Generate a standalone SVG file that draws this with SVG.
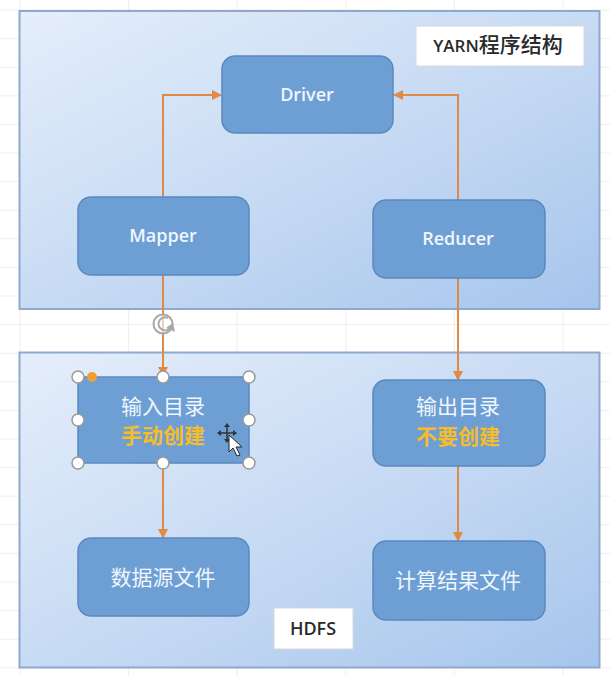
<svg xmlns="http://www.w3.org/2000/svg" width="610" height="676" viewBox="0 0 610 676">
<defs>
<linearGradient id="cg" x1="0" y1="0" x2="1" y2="1">
<stop offset="0" stop-color="#E5EEFB"/>
<stop offset="0.5" stop-color="#C8DBF4"/>
<stop offset="1" stop-color="#A6C5EC"/>
</linearGradient>
<marker id="ah" viewBox="0 0 10 10" refX="9" refY="5" markerWidth="10" markerHeight="10" markerUnits="userSpaceOnUse" orient="auto">
<path d="M0,0 L10,5 L0,10 Z" fill="#E08A45"/>
</marker>
<pattern id="grid" x="19.5" y="9.5" width="108.6" height="28.6" patternUnits="userSpaceOnUse">
<path d="M0,0 H108.6 M0,0 V28.6" stroke="#DDDDDD" stroke-width="1" fill="none"/>
</pattern>
</defs>
<style>
.cont{fill:url(#cg);stroke:#8EA9CB;stroke-width:2}
.box{fill:#6D9FD4;stroke:#5A89BF;stroke-width:1.5}
.lbl{fill:#FFFFFF;stroke:#D8D8D8;stroke-width:1}
.en{font-family:"Open Sans","Noto Sans",sans-serif;font-size:18px;font-weight:600;fill:#F0F6FD;text-anchor:middle}
.cn{font-family:"Noto Sans CJK SC",sans-serif;font-size:21px;fill:#F0F6FD;text-anchor:middle}
.yl{font-family:"Noto Sans CJK SC",sans-serif;font-size:21px;fill:#F6BC2A;font-weight:bold;text-anchor:middle}
.tag{font-family:"Open Sans","Noto Sans CJK SC",sans-serif;font-size:17px;font-weight:600;fill:#2A2A2A;text-anchor:middle}
.tagc{font-family:"Noto Sans CJK SC",sans-serif;font-size:21px;font-weight:500}
.con{fill:none;stroke:#E08A45;stroke-width:2;marker-end:url(#ah)}
.hd{fill:#FFFFFF;stroke:#9A9A9A;stroke-width:1.5}
</style>
<rect x="0" y="0" width="610" height="676" fill="#FFFFFF"/>
<rect x="0" y="0" width="610" height="676" fill="url(#grid)"/>

<g id="yarn">
<rect class="cont" x="19.5" y="11" width="580" height="298"/>
</g>
<g id="hdfs">
<rect class="cont" x="19.5" y="352.5" width="580" height="315"/>
</g>

<g id="yarn-label">
<rect class="lbl" x="416" y="26" width="168" height="40"/>
<text class="tag" x="498" y="52">YARN<tspan class="tagc">程序结构</tspan></text>
</g>
<g id="hdfs-label">
<rect class="lbl" x="274" y="608" width="79" height="41"/>
<text class="tag" x="313" y="635" style="font-size:18px">HDFS</text>
</g>

<g id="connectors">
<path class="con" d="M163,197 V95 H221"/>
<path class="con" d="M458,200 V95 H394"/>
<path class="con" d="M163,275 V376"/>
<path class="con" d="M458,278 V380"/>
<path class="con" d="M163,463 V538"/>
<path class="con" d="M458,466 V541"/>
</g>

<g id="driver">
<rect class="box" x="222" y="56" width="171" height="77" rx="13"/>
<text class="en" x="307" y="101">Driver</text>
</g>
<g id="mapper">
<rect class="box" x="78" y="197" width="171" height="78" rx="13"/>
<text class="en" x="163" y="242">Mapper</text>
</g>
<g id="reducer">
<rect class="box" x="373" y="200" width="172" height="78" rx="13"/>
<text class="en" x="458" y="245">Reducer</text>
</g>
<g id="input-dir">
<rect class="box" x="78" y="377" width="171" height="86" rx="6"/>
<text class="cn" x="163" y="414">输入目录</text>
<text class="yl" x="163" y="443">手动创建</text>
</g>
<g id="output-dir">
<rect class="box" x="373" y="380" width="172" height="86" rx="13"/>
<text class="cn" x="458" y="414">输出目录</text>
<text class="yl" x="458" y="444">不要创建</text>
</g>
<g id="source-file">
<rect class="box" x="78" y="538" width="171" height="78" rx="13"/>
<text class="cn" x="163" y="585">数据源文件</text>
</g>
<g id="result-file">
<rect class="box" x="373" y="541" width="172" height="79" rx="13"/>
<text class="cn" x="458" y="588">计算结果文件</text>
</g>

<g id="selection">
<circle class="hd" cx="78" cy="377" r="6"/>
<circle class="hd" cx="163" cy="377" r="6"/>
<circle class="hd" cx="249" cy="377" r="6"/>
<circle class="hd" cx="78" cy="420" r="6"/>
<circle class="hd" cx="249" cy="420" r="6"/>
<circle class="hd" cx="78" cy="463" r="6"/>
<circle class="hd" cx="163" cy="463" r="6"/>
<circle class="hd" cx="249" cy="463" r="6"/>
<circle cx="92" cy="377" r="5" fill="#F0A030"/>
<circle cx="163" cy="324" r="9.5" fill="#FFFFFF" fill-opacity="0.6" stroke="#A8A8A8" stroke-width="2"/>
<path d="M168,318 A6.5,6.5 0 1 0 169,329" fill="none" stroke="#A8A8A8" stroke-width="2"/>
<path d="M166,328 L175,332 L173,323 Z" fill="#A8A8A8"/>
<path d="M227,426 V440 M220,433 H234" stroke="#333333" stroke-width="1.5"/>
<path d="M227,423 L230,427 H224 Z M227,443 L230,439 H224 Z M217,433 L221,430 V436 Z M237,433 L233,430 V436 Z" fill="#333333"/>
<path d="M229,435 L229,452 L233,448 L237,456 L240,455 L236,447 L242,447 Z" fill="#FFFFFF" stroke="#222222" stroke-width="1"/>
</g>
</svg>
